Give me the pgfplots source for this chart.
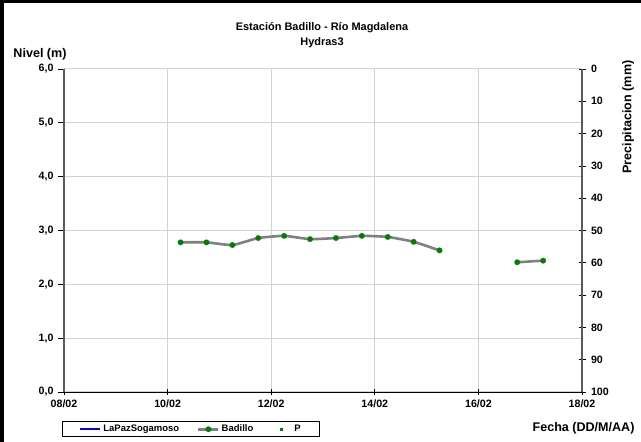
\documentclass[border=0pt]{standalone}
\usepackage{pgfplots}
\pgfplotsset{compat=1.18}
\usepackage{fontspec}
\setmainfont{Liberation Sans}
\definecolor{gridc}{RGB}{210,210,210}
\definecolor{axc}{RGB}{90,90,90}
\definecolor{linec}{RGB}{128,128,128}
\definecolor{mgreen}{RGB}{0,128,0}
\definecolor{lblue}{RGB}{0,0,255}
\begin{document}
\begin{tikzpicture}[x=1bp,y=1bp]
\useasboundingbox (0,0) rectangle (641,442);
\fill[white] (0,0) rectangle (641,442);
\draw[black, line width=3.5bp] (1.75,0) -- (1.75,440.25) -- (641,440.25);
% titles
\node[font=\fontsize{11}{13}\selectfont\bfseries] at (322,414.5) {Estación Badillo - Río Magdalena};
\node[font=\fontsize{11}{13}\selectfont\bfseries] at (322,399.5) {Hydras3};
\node[font=\fontsize{12.6}{14}\selectfont\bfseries] at (40,388) {Nivel (m)};
\node[font=\fontsize{12.6}{14}\selectfont\bfseries, anchor=east] at (638,14) {Fecha (DD/M/AA)};
\node[font=\fontsize{12.6}{14}\selectfont\bfseries, rotate=90] at (628,325) {Precipitacion (mm)};
\begin{axis}[
  at={(64bp,50bp)}, anchor=south west,
  scale only axis, width=518bp, height=323bp,
  xmin=0, xmax=10, ymin=0, ymax=6,
  xtick={0,2,4,6,8,10},
  xticklabels={08/02,10/02,12/02,14/02,16/02,18/02},
  ytick={0,1,2,3,4,5,6},
  yticklabel style={/pgf/number format/fixed, /pgf/number format/fixed zerofill, /pgf/number format/precision=1, /pgf/number format/use comma, xshift=-1bp},
  /pgf/number format/assume math mode=true,
  tick label style={font=\fontsize{10.7}{12}\selectfont\bfseries},
  axis x line*=bottom, axis y line*=left,
  x axis line style={black, line width=0.9bp, -},
  y axis line style={axc, line width=2bp, -},
  xtick align=center, ytick align=outside,
  major tick length=6bp,
  every tick/.style={black, line width=0.7bp},
  xmajorgrids, ymajorgrids,
  major grid style={gridc, line width=1bp},
  xticklabel style={yshift=-1bp},
  clip=false,
  unbounded coords=jump,
  legend columns=3,
  legend style={at={(-0.004,-0.09)}, anchor=north west, draw=black, line width=1bp,
    font=\fontsize{9.5}{11}\selectfont\bfseries, inner xsep=17bp, inner ysep=1.5bp,
    /tikz/every odd column/.append style={column sep=0bp},
    /tikz/every even column/.append style={column sep=16bp}},
  legend cell align=left,
  legend image code/.code={\path (0bp,0bp) (20bp,0bp);\draw[mark repeat=2,mark phase=2,#1] plot coordinates {(0bp,0bp)(10bp,0bp)(20bp,0bp)};},
]
\addlegendimage{legend image code/.code={\draw[lblue, line width=2bp] (0bp,0bp) -- (20bp,0bp);}}
\addlegendentry{LaPazSogamoso}
\addplot[linec, line width=2.6bp, smooth, tension=0.3,
  mark=*, mark size=2.8bp, mark options={mgreen, fill=mgreen, line width=0.1bp}]
  coordinates {
  (2.25,2.78) (2.75,2.78) (3.25,2.73) (3.75,2.86) (4.25,2.90) (4.75,2.84)
  (5.25,2.86) (5.75,2.90) (6.25,2.88) (6.75,2.79) (7.25,2.63)
  (7.75,nan)
  (8.75,2.41) (9.25,2.44)
  };
\addlegendentry{Badillo}
\addlegendimage{only marks, mark=square*, mark size=1.2bp, mgreen}
\addlegendentry{P}
\end{axis}
\begin{axis}[
  at={(64bp,50bp)}, anchor=south west,
  scale only axis, width=518bp, height=323bp,
  xmin=0, xmax=10, ymin=0, ymax=100, y dir=reverse,
  ytick={0,10,...,100},
  axis x line=none, axis y line*=right,
  y axis line style={axc, line width=2bp, -},
  ytick align=center, major tick length=7bp,
  every tick/.style={black, line width=0.7bp},
  /pgf/number format/assume math mode=true,
  tick label style={font=\fontsize{10.7}{12}\selectfont\bfseries},
  yticklabel style={xshift=2bp},
]
\addplot[draw=none, forget plot] coordinates {(0,0)};
\end{axis}
\end{tikzpicture}
\end{document}
